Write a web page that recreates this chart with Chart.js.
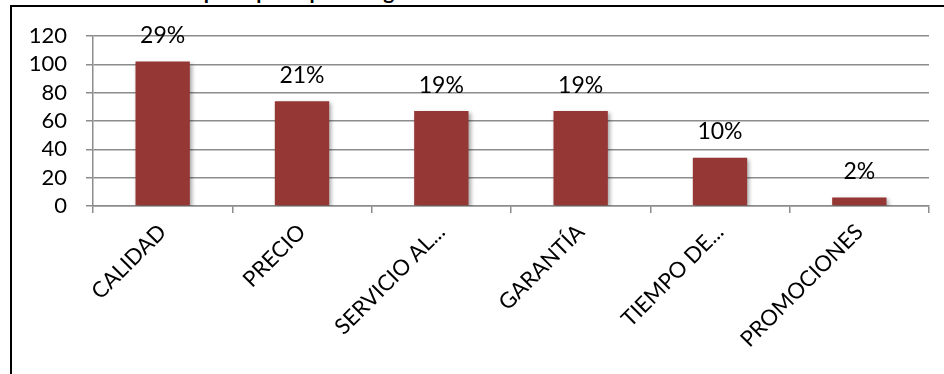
<!DOCTYPE html>
<html>
<head>
<meta charset="utf-8">
<script src="https://cdn.jsdelivr.net/npm/chart.js@4"></script>
<style>
  html, body { margin: 0; padding: 0; background: #fff; overflow: hidden; }
  body { width: 944px; height: 374px; position: relative; }
  #title {
    position: absolute; left: 16px; top: -22px; white-space: nowrap;
    font: bold 21px "Lato", sans-serif; color: #000;
  }
  #frame {
    position: absolute; left: 10px; top: 5px; width: 1000px; height: 400px;
    border: 2px solid #000; box-sizing: border-box;
  }
  #wrap { position: absolute; left: 0; top: 0; width: 944px; height: 374px; }
</style>
</head>
<body>
<div id="title">Gráfico 3: Atributos principales para elegir el servicio de mantenimiento del vehículo</div>
<div id="frame"></div>
<div id="wrap"><canvas id="attrChart"></canvas></div>
<script>
const categories = ['CALIDAD', 'PRECIO', 'SERVICIO AL...', 'GARANTÍA', 'TIEMPO DE...', 'PROMOCIONES'];
const responses = [102, 74, 67, 67, 34, 6];
const yTicks = [0, 20, 40, 60, 80, 100, 120];

const total = responses.reduce((a, b) => a + b, 0);
const shares = responses.map(v => Math.round(v / total * 100) + '%');

// soft shadow behind the bars
const barShadow = {
    id: 'barShadow',
    beforeDatasetsDraw(chart) {
        const c = chart.ctx;
        c.save();
        c.shadowColor = 'rgba(0,0,0,0.35)';
        c.shadowBlur = 4;
        c.shadowOffsetX = 2;
        c.shadowOffsetY = 2;
    },
    afterDatasetsDraw(chart) {
        chart.ctx.restore();
    }
};

// share labels above each bar
const shareLabels = {
    id: 'shareLabels',
    afterDraw(chart) {
        const c = chart.ctx;
        const meta = chart.getDatasetMeta(0);
        c.save();
        c.font = '23px "Lato", sans-serif';
        c.fillStyle = '#000';
        c.textAlign = 'center';
        c.textBaseline = 'middle';
        meta.data.forEach((bar, i) => {
            c.fillText(shares[i], bar.x, bar.y - 26);
        });
        c.restore();
    }
};

new Chart(document.getElementById('attrChart').getContext('2d'), {
    type: 'bar',
    data: {
        labels: categories,
        datasets: [{
            data: responses,
            backgroundColor: '#953735',
            borderWidth: 0,
            categoryPercentage: 1,
            barPercentage: 0.39
        }]
    },
    options: {
        responsive: true,
        maintainAspectRatio: false,
        animation: false,
        layout: { padding: { top: 36, right: 15, left: 0, bottom: 0 } },
        plugins: {
            legend: { display: false },
            tooltip: { enabled: false }
        },
        scales: {
            x: {
                afterFit: scale => { scale.height = 168; },
                border: { color: '#8c8c8c', width: 1.5 },
                grid: {
                    offset: true,
                    drawOnChartArea: false,
                    tickLength: 7,
                    color: '#8c8c8c',
                    lineWidth: 1.5
                },
                ticks: {
                    autoSkip: false,
                    minRotation: 45,
                    maxRotation: 45,
                    padding: 6,
                    color: '#000',
                    font: { family: 'Lato', size: 22 }
                }
            },
            y: {
                min: 0,
                max: 120,
                afterFit: scale => { scale.width = 93; },
                afterBuildTicks: scale => { scale.ticks = yTicks.map(v => ({ value: v })); },
                border: { color: '#8c8c8c', width: 1.5 },
                grid: {
                    tickLength: 7,
                    color: '#8c8c8c',
                    lineWidth: 1.5
                },
                ticks: {
                    autoSkip: false,
                    padding: 19,
                    color: '#000',
                    font: { family: 'Lato', size: 22 }
                }
            }
        }
    },
    plugins: [barShadow, shareLabels]
});
</script>
</body>
</html>
